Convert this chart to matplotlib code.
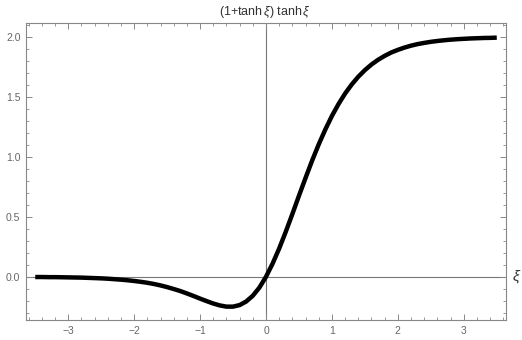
import matplotlib
matplotlib.use("Agg")
import matplotlib.pyplot as plt
from matplotlib.ticker import MultipleLocator, FormatStrFormatter

xi = [-3.5, -3.4, -3.3, -3.2, -3.1, -3.0, -2.9, -2.8, -2.7, -2.6,
      -2.5, -2.4, -2.3, -2.2, -2.1, -2.0, -1.9, -1.8, -1.7, -1.6,
      -1.5, -1.4, -1.3, -1.2, -1.1, -1.0, -0.9, -0.8, -0.7, -0.6,
      -0.5, -0.4, -0.3, -0.2, -0.1, 0.0, 0.1, 0.2, 0.3, 0.4,
      0.5, 0.6, 0.7, 0.8, 0.9, 1.0, 1.1, 1.2, 1.3, 1.4,
      1.5, 1.6, 1.7, 1.8, 1.9, 2.0, 2.1, 2.2, 2.3, 2.4,
      2.5, 2.6, 2.7, 2.8, 2.9, 3.0, 3.1, 3.2, 3.3, 3.4, 3.5]
values = [-0.002, -0.002, -0.003, -0.003, -0.004, -0.005, -0.006, -0.007, -0.009, -0.011,
          -0.013, -0.016, -0.020, -0.024, -0.029, -0.035, -0.042, -0.050, -0.060, -0.072,
          -0.086, -0.102, -0.119, -0.139, -0.160, -0.182, -0.203, -0.223, -0.239, -0.249,
          -0.249, -0.236, -0.206, -0.158, -0.090, 0.000, 0.110, 0.236, 0.376, 0.524,
          0.676, 0.825, 0.970, 1.105, 1.229, 1.342, 1.441, 1.529, 1.604, 1.669,
          1.724, 1.771, 1.810, 1.843, 1.871, 1.893, 1.912, 1.928, 1.941, 1.951,
          1.960, 1.967, 1.973, 1.978, 1.982, 1.985, 1.988, 1.990, 1.992, 1.993, 1.995]

title = r"(1+tanh$\,\xi$) tanh$\,\xi$"
xlabel = r"$\xi$"

plt.rcParams["font.family"] = ["Liberation Sans", "DejaVu Sans"]
plt.rcParams["mathtext.fontset"] = "custom"
plt.rcParams["mathtext.rm"] = "Liberation Sans"
plt.rcParams["mathtext.it"] = "Liberation Sans:italic"

fig = plt.figure(figsize=(5.22, 3.40), dpi=100)
ax = fig.add_axes([26/522, 20/340, 480/522, 297/340])

gray = "#888888"
ax.axhline(0, color="#777777", lw=0.8, zorder=1)
ax.axvline(0, color="#777777", lw=0.8, zorder=1)
ax.plot(xi, values, color="black", lw=3.2, solid_capstyle="butt", zorder=3)

ax.set_xlim(-3.64, 3.64)
ax.set_ylim(-0.3605, 2.117)

ax.xaxis.set_major_locator(MultipleLocator(1))
ax.xaxis.set_minor_locator(MultipleLocator(0.2))
ax.yaxis.set_major_locator(MultipleLocator(0.5))
ax.yaxis.set_minor_locator(MultipleLocator(0.1))
ax.yaxis.set_major_formatter(FormatStrFormatter("%.1f"))
ax.xaxis.set_major_formatter(matplotlib.ticker.FuncFormatter(
    lambda v, p: ("\u2212%d" % abs(round(v))) if v < 0 else "%d" % round(v)))

ax.tick_params(which="both", direction="in", top=True, right=True,
               color=gray, labelcolor="#666666", labelsize=7.5)
ax.tick_params(which="major", length=4.5, width=0.7, pad=4)
ax.tick_params(which="minor", length=2.5, width=0.6)
for s in ax.spines.values():
    s.set_color(gray)
    s.set_linewidth(0.8)

fig.text(265/522, 1 - 12/340, title, ha="center", va="center",
         fontsize=9, color="#333333")
ax.text(1.012, 0, xlabel, transform=ax.get_yaxis_transform(),
        ha="left", va="center", fontsize=11, color="#333333")

fig.savefig("out.png", dpi=100)
